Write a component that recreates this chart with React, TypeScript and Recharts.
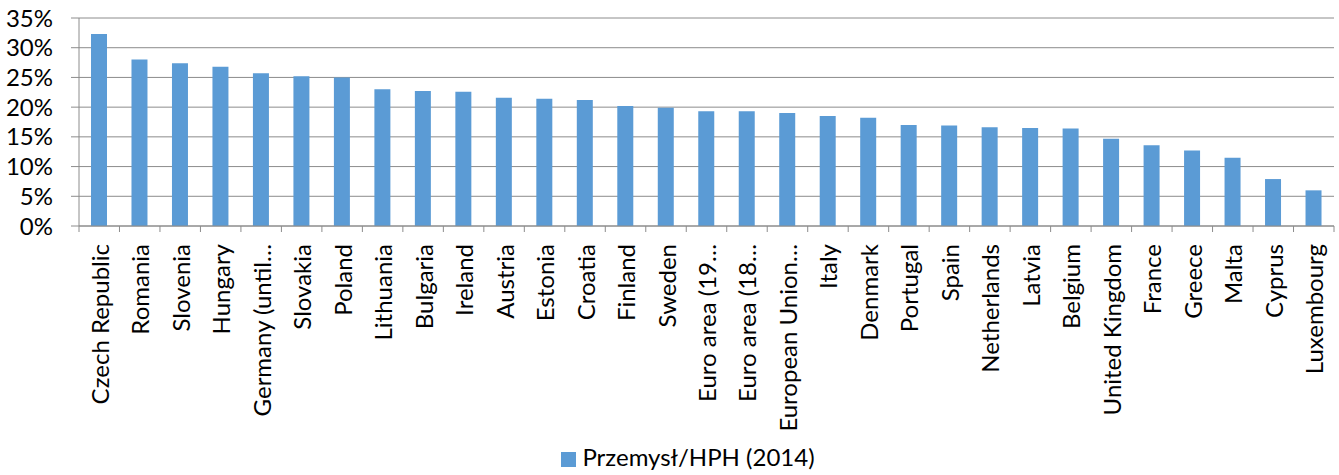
import React from 'react';
import { BarChart, Bar, XAxis, YAxis, CartesianGrid, Legend } from 'recharts';

const categories = [
  'Czech Republic', 'Romania', 'Slovenia', 'Hungary', 'Germany (until…', 'Slovakia', 'Poland',
  'Lithuania', 'Bulgaria', 'Ireland', 'Austria', 'Estonia', 'Croatia', 'Finland', 'Sweden',
  'Euro area (19…', 'Euro area (18…', 'European Union…', 'Italy', 'Denmark', 'Portugal', 'Spain',
  'Netherlands', 'Latvia', 'Belgium', 'United Kingdom', 'France', 'Greece', 'Malta', 'Cyprus',
  'Luxembourg',
];

const industryShare = [
  32.3, 28.0, 27.4, 26.8, 25.7, 25.2, 25.0, 23.0, 22.7, 22.6, 21.6, 21.4, 21.2, 20.2, 19.9,
  19.3, 19.3, 19.0, 18.5, 18.2, 17.0, 16.9, 16.6, 16.5, 16.4, 14.7, 13.6, 12.7, 11.5, 7.9, 6.0,
];

const yTicks = [0, 5, 10, 15, 20, 25, 30, 35];

const data = categories.map((name, i) => ({ name, value: industryShare[i] }));

const W = 1339;
const H = 475;
const Y_AXIS_W = 79;
const RIGHT = 5;
const BAND = (W - Y_AXIS_W - RIGHT) / categories.length;
const FONT = 'Lato, "Open Sans", sans-serif';
const GRID = '#8c8c8c';

const XTick = (props: any) => {
  const { x, y, payload, index } = props;
  const left = x - BAND / 2;
  return (
    <g>
      <line x1={left} y1={y} x2={left} y2={y + 6} stroke={GRID} />
      {index === categories.length - 1 && (
        <line x1={x + BAND / 2} y1={y} x2={x + BAND / 2} y2={y + 6} stroke={GRID} />
      )}
      <text
        transform={`translate(${x},${y + 18}) rotate(-90)`}
        textAnchor="end"
        dominantBaseline="central"
        fontSize={24}
        fontFamily={FONT}
        fill="#000"
      >
        {payload.value}
      </text>
    </g>
  );
};

const App: React.FC = () => {
  return (
    <div style={{ position: 'absolute', left: 0, top: 0, background: '#fff' }}>
      <BarChart width={W} height={H} data={data} margin={{ top: 18, right: RIGHT, left: 0, bottom: 4 }} barSize={16}>
        <CartesianGrid vertical={false} stroke={GRID} />
        <XAxis
          dataKey="name"
          interval={0}
          tick={<XTick />}
          tickLine={false}
          tickSize={0}
          tickMargin={0}
          height={216}
          stroke={GRID}
        />
        <YAxis
          domain={[0, 35]}
          ticks={yTicks}
          tickFormatter={(v: number) => `${v}%`}
          width={Y_AXIS_W}
          tickSize={8}
          tickMargin={18}
          stroke={GRID}
          tick={{ fill: '#000', fontSize: 24, fontFamily: FONT }}
          interval={0}
        />
        <Legend
          verticalAlign="bottom"
          iconType="square"
          iconSize={15}
          wrapperStyle={{ fontFamily: FONT, fontSize: 24, paddingLeft: 26 }}
          formatter={(value: string) => <span style={{ color: '#000', marginLeft: 2 }}>{value}</span>}
        />
        <Bar dataKey="value" name="Przemysł/HPH (2014)" fill="#5b9bd5" isAnimationActive={false} />
      </BarChart>
    </div>
  );
};

export default App;
